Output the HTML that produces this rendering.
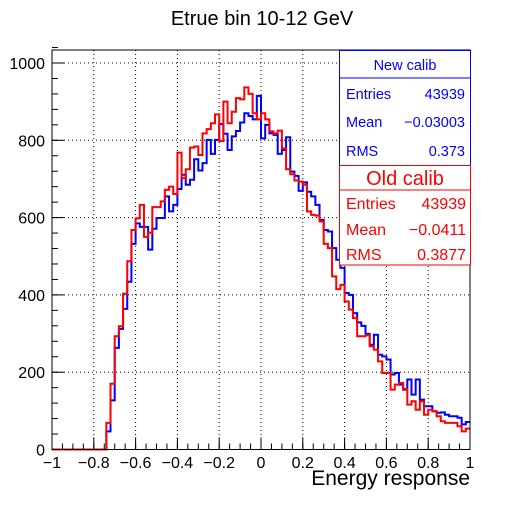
<!DOCTYPE html>
<html><head><meta charset="utf-8"><style>
body{margin:0;background:#fff}
svg text{font-family:"Liberation Sans",sans-serif}
</style></head><body>
<svg width="523" height="500" xmlns="http://www.w3.org/2000/svg">
<rect width="523" height="500" fill="#fff"/>
<text x="262" y="25" font-size="20" text-anchor="middle">Etrue bin 10-12 GeV</text>
<g id="grid"></g>
<g id="hists"></g>
<rect x="52" y="50" width="418" height="399.5" fill="none" stroke="#000" stroke-width="1"/>
<g id="axes"></g>
<text x="470" y="485" font-size="21" text-anchor="end">Energy response</text>
<g>
<rect x="339.5" y="50.5" width="131" height="115" fill="#fff" stroke="#0000ff"/>
<line x1="339.5" y1="78" x2="470.5" y2="78" stroke="#0000ff"/>
<text x="405" y="70" font-size="14.5" fill="#0000ff" text-anchor="middle">New calib</text>
<text x="346" y="99" font-size="14.5" fill="#0000ff">Entries</text>
<text x="465" y="99" font-size="14.5" fill="#0000ff" text-anchor="end">43939</text>
<text x="346" y="127" font-size="14.5" fill="#0000ff">Mean</text>
<text x="465" y="127" font-size="14.5" fill="#0000ff" text-anchor="end">−0.03003</text>
<text x="346" y="156" font-size="14.5" fill="#0000ff">RMS</text>
<text x="465" y="156" font-size="14.5" fill="#0000ff" text-anchor="end">0.373</text>
</g>
<g>
<rect x="339.5" y="165.5" width="131" height="99.5" fill="#fff" stroke="#ff0000"/>
<line x1="339.5" y1="190" x2="470.5" y2="190" stroke="#ff0000"/>
<text x="405" y="185" font-size="20" fill="#ff0000" text-anchor="middle">Old calib</text>
<text x="346" y="209" font-size="16" fill="#ff0000">Entries</text>
<text x="466" y="209" font-size="16" fill="#ff0000" text-anchor="end">43939</text>
<text x="346" y="235" font-size="16" fill="#ff0000">Mean</text>
<text x="466" y="235" font-size="16" fill="#ff0000" text-anchor="end">−0.0411</text>
<text x="346" y="260" font-size="16" fill="#ff0000">RMS</text>
<text x="466" y="260" font-size="16" fill="#ff0000" text-anchor="end">0.3877</text>
</g>
</svg>
<script>
const binStart = -0.74;
const binWidth = 0.02;
const newCalib = [47,127,263,312,364,434,532,585,576,576,517,571,599,599,655,616,633,674,711,685,698,751,722,741,801,765,801,842,817,775,810,824,846,870,863,854,915,805,840,818,814,765,775,808,719,708,669,691,667,655,633,594,568,564,521,491,470,405,400,353,329,320,299,271,297,245,241,233,194,198,168,155,181,142,181,129,112,112,99,95,96,90,86,86,82,65,71];
const oldCalib = [69,170,293,319,403,487,568,598,633,550,561,627,627,642,672,680,661,768,702,725,781,784,762,818,829,844,867,798,900,844,874,909,906,937,920,870,854,870,854,823,818,825,779,725,712,696,693,685,616,607,605,590,532,521,448,415,426,383,362,340,293,293,296,267,258,228,198,198,155,168,172,157,116,125,103,125,90,103,99,86,73,69,69,69,60,47,54];
const xTicks = [-1,-0.8,-0.6,-0.4,-0.2,0,0.2,0.4,0.6,0.8,1];
const xTickLabels = ["−1","−0.8","−0.6","−0.4","−0.2","0","0.2","0.4","0.6","0.8","1"];
const yTicks = [0,200,400,600,800,1000];
const yTickLabels = ["0","200","400","600","800","1000"];
const NS="http://www.w3.org/2000/svg";
const X0=52,X1=470,Y0=449.5,YPX=0.3865;
function xs(v){return X0+(v+1)/2*(X1-X0);}
function ys(v){return Y0-v*YPX;}
function mk(t,a,p){const e=document.createElementNS(NS,t);for(const k in a)e.setAttribute(k,a[k]);p.appendChild(e);return e;}
const grid=document.getElementById('grid'),axes=document.getElementById('axes'),hists=document.getElementById('hists');
xTicks.forEach((v,i)=>{
  if(i>0&&i<xTicks.length-1){const l=mk('line',{x1:xs(v),x2:xs(v),y1:50,y2:Y0,stroke:'#000','stroke-dasharray':'1,3'},grid);
  
  }
  const t=mk('text',{x:xs(v),y:468,'font-size':16,'text-anchor':'middle'},axes);t.textContent=xTickLabels[i];
  
  
  mk('line',{x1:xs(v),x2:xs(v),y1:Y0,y2:Y0-12,stroke:'#000'},axes);
});
for(let v=-1;v<1.001;v+=0.05){mk('line',{x1:xs(v),x2:xs(v),y1:Y0,y2:Y0-6,stroke:'#000'},axes);}
yTicks.forEach((v,i)=>{
  if(i>0){const l=mk('line',{x1:X0,x2:X1,y1:ys(v),y2:ys(v),stroke:'#000','stroke-dasharray':'1,3'},grid);
  
  }
  const t=mk('text',{x:45,y:ys(v)+6,'font-size':16,'text-anchor':'end'},axes);t.textContent=yTickLabels[i];
  
  
  mk('line',{x1:X0,x2:X0+12,y1:ys(v),y2:ys(v),stroke:'#000'},axes);
});
for(let v=0;v<=1040;v+=40){mk('line',{x1:X0,x2:X0+6,y1:ys(v),y2:ys(v),stroke:'#000'},axes);}
function hpath(vals){
  let d='M'+xs(-1)+','+ys(0)+' L'+xs(binStart)+','+ys(0);
  vals.forEach((v,i)=>{const a=binStart+i*binWidth;d+=' L'+xs(a)+','+ys(v)+' L'+xs(a+binWidth)+','+ys(v);});
  return d;
}
const pb=mk('path',{d:hpath(newCalib),fill:'none',stroke:'#0000ff','stroke-width':2},hists);


const pr=mk('path',{d:hpath(oldCalib),fill:'none',stroke:'#ff0000','stroke-width':2},hists);


</script>
</body></html>
